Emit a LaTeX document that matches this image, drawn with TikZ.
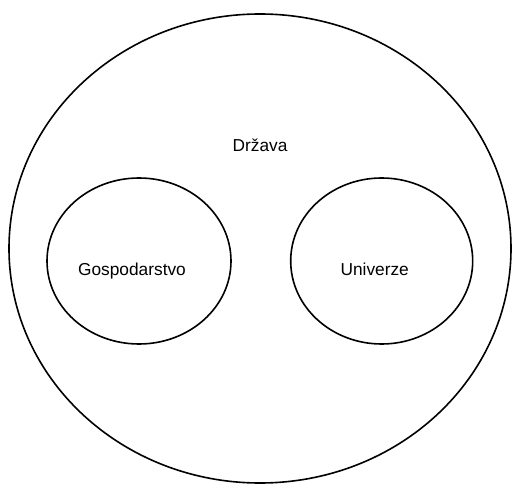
\documentclass[tikz,border=0pt]{standalone}
\usepackage{fontspec}
\setmainfont{Liberation Sans}
\usetikzlibrary{shapes.geometric}
\begin{document}
\begin{tikzpicture}[x=1pt,y=-1pt,
  set/.style={draw=black, line width=1.6pt, ellipse, inner sep=0pt},
  lbl/.style={font=\fontsize{17.3}{20}\selectfont, inner sep=0pt, anchor=base}]
\useasboundingbox (0,0) rectangle (512,484);
% outer set
\node[set, minimum width=502pt, minimum height=469pt] (drzava) at (260,248.5) {};
% inner sets
\node[set, minimum width=184pt, minimum height=166pt] (gosp) at (139,261) {};
\node[set, minimum width=182pt, minimum height=166pt] (univ) at (381.7,261) {};
% labels
\node[lbl] (tdrzava) at (260,151.5) {Država};
\node[lbl] (tgosp) at (132,275.7) {Gospodarstvo};
\node[lbl] (tuniv) at (374.7,275.7) {Univerze};
\end{tikzpicture}
\end{document}
